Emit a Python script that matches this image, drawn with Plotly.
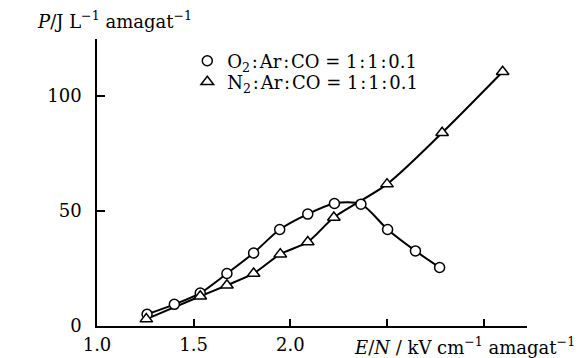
import plotly.graph_objects as go

# O2:Ar:CO = 1:1:0.1
E_o2 = [1.259, 1.40, 1.534, 1.672, 1.81, 1.945, 2.09, 2.228, 2.365, 2.503, 2.647, 2.772]
P_o2 = [5.1, 9.4, 14.3, 22.8, 31.7, 41.9, 48.6, 53.2, 52.9, 41.9, 32.6, 25.4]

# N2:Ar:CO = 1:1:0.1
E_n2 = [1.255, 1.534, 1.672, 1.81, 1.948, 2.09, 2.225, 2.50, 2.785, 3.098]
P_n2 = [3.0, 12.9, 17.7, 22.8, 31.2, 36.5, 47.1, 61.6, 83.9, 110.4]

x_tickvals = [1.0, 1.5, 2.0, 2.5, 3.0]
x_ticktext = ["1.0", "1.5", "2.0", "", ""]
y_tickvals = [0, 50, 100]
y_ticktext = ["0", "50", "100"]

FONT = "DejaVu Serif"
FS = 18
hs = "\u200a"
c = hs + ":" + hs

fig = go.Figure()
# lines
fig.add_trace(go.Scatter(x=E_o2, y=P_o2, mode="lines", line=dict(color="black", width=2, shape="spline", smoothing=0.8),
                         showlegend=False, hoverinfo="skip"))
fig.add_trace(go.Scatter(x=E_n2, y=P_n2, mode="lines", line=dict(color="black", width=2, shape="spline", smoothing=0.8),
                         showlegend=False, hoverinfo="skip"))
# markers
fig.add_trace(go.Scatter(x=E_o2, y=P_o2, mode="markers", name=f"O<sub>2</sub>{c}Ar{c}CO = 1{c}1{c}0.1",
                         marker=dict(symbol="circle", size=10, color="white", line=dict(color="black", width=1.5)),
                         legend="legend"))
fig.add_trace(go.Scatter(x=E_n2, y=P_n2, mode="markers", name=f"N<sub>2</sub>{c}Ar{c}CO = 1{c}1{c}0.1",
                         marker=dict(symbol="triangle-up", size=11, color="white", line=dict(color="black", width=1.5)),
                         legend="legend2"))

leg_common = dict(font=dict(family=FONT, size=FS, color="black"), bgcolor="rgba(0,0,0,0)",
                  itemwidth=30, xanchor="left", yanchor="middle", borderwidth=0)
fig.update_layout(
    width=579, height=358,
    margin=dict(l=97, r=52, t=39, b=32, autoexpand=False),
    paper_bgcolor="white", plot_bgcolor="white",
    font=dict(family=FONT, size=FS, color="black"),
    legend=dict(x=0.21, y=(325.7 - 61) / 286.7, **leg_common),
    legend2=dict(x=0.21, y=(325.7 - 82) / 286.7, **leg_common),
    xaxis=dict(range=[1.0, 3.224], tickvals=x_tickvals, ticktext=x_ticktext, automargin=False,
               ticks="inside", ticklen=7, tickwidth=1.5, tickcolor="black",
               showline=True, linecolor="black", linewidth=1.5, showgrid=False, zeroline=False,
               ticklabelstandoff=2, tickfont=dict(family=FONT, size=FS)),
    yaxis=dict(range=[0, 124.6], tickvals=y_tickvals, ticktext=y_ticktext, automargin=False,
               ticks="inside", ticklen=8, tickwidth=1.5, tickcolor="black",
               showline=True, linecolor="black", linewidth=1.5, showgrid=False, zeroline=False,
               ticklabelstandoff=10, tickfont=dict(family=FONT, size=FS)),
    annotations=[
        dict(text="<i>P</i>/J L<sup>−1</sup> amagat<sup>−1</sup>", xref="paper", yref="paper",
             x=(35 - 96.7) / 430, y=(325.7 - 20) / 286.7, xanchor="left", yanchor="middle",
             showarrow=False, font=dict(family=FONT, size=FS)),
        dict(text="<i>E</i>/<i>N</i> / kV cm<sup>−1</sup> amagat<sup>−1</sup>", xref="paper", yref="paper",
             x=(577 - 96.7) / 430, y=(325.7 - 346) / 286.7, xanchor="right", yanchor="middle",
             showarrow=False, font=dict(family=FONT, size=FS)),
    ],
)

fig.write_html("out.html")
